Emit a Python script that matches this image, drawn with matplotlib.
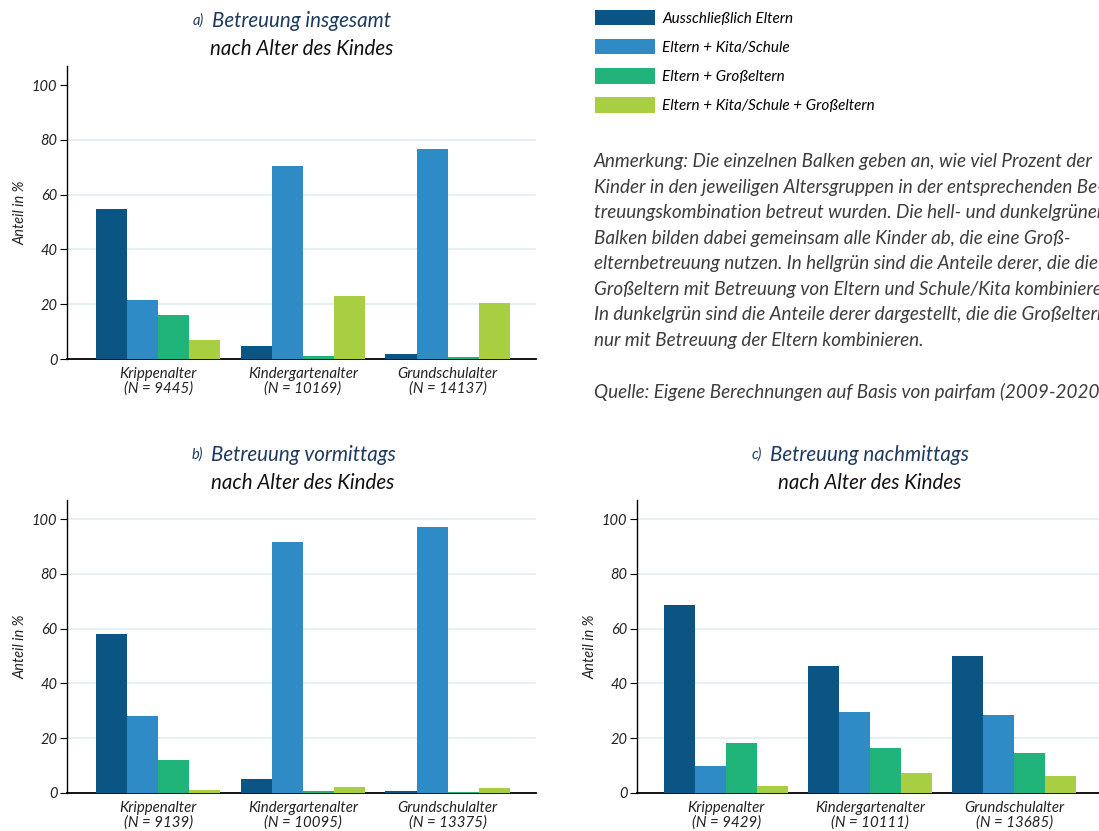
import numpy as np
import matplotlib
matplotlib.use("Agg")
import matplotlib.pyplot as plt

plt.rcParams['font.family'] = ['Lato', 'DejaVu Sans']
plt.rcParams['font.style'] = 'italic'

# Daten (Anteil in %)
series_names = ["Ausschließlich Eltern", "Eltern + Kita/Schule",
                "Eltern + Großeltern", "Eltern + Kita/Schule + Großeltern"]
colors = ["#0b5584", "#2f8bc5", "#20b37a", "#a8cf41"]
categories = ["Krippenalter", "Kindergartenalter", "Grundschulalter"]

n_a = [9445, 10169, 14137]
n_b = [9139, 10095, 13375]
n_c = [9429, 10111, 13685]

# Betreuung insgesamt
a_eltern = [54.7, 4.7, 1.8]
a_kita = [21.5, 70.4, 76.6]
a_gross = [16.1, 1.1, 0.7]
a_kita_gross = [6.9, 23.0, 20.4]

# Betreuung vormittags
b_eltern = [58.2, 5.2, 0.6]
b_kita = [28.3, 91.5, 97.3]
b_gross = [12.2, 0.9, 0.4]
b_kita_gross = [1.2, 2.3, 1.9]

# Betreuung nachmittags
c_eltern = [68.5, 46.5, 50.2]
c_kita = [10.0, 29.4, 28.6]
c_gross = [18.4, 16.6, 14.7]
c_kita_gross = [2.7, 7.4, 6.3]

W, H = 1099, 831
fig = plt.figure(figsize=(W / 100, H / 100), dpi=100)
fig.patch.set_facecolor("white")


def fx(px):
    return px / W


def fy(py):
    return 1 - py / H


navy = "#1e3a60"
grid_col = "#e2eff2"


def panel(rect, data, ns, xlim, grid_ticks):
    ax = fig.add_axes(rect)
    x = np.arange(len(categories))
    w = 0.215
    bars = []
    for i, vals in enumerate(data):
        b = ax.bar(x + (i - 1.5) * w, vals, width=w, color=colors[i],
                   label=series_names[i], zorder=3)
        bars.append(b)
    ax.set_ylim(0, 107)
    ax.set_xlim(*xlim)
    ax.set_yticks([0, 20, 40, 60, 80, 100])
    for t in grid_ticks:
        ax.axhline(t, color=grid_col, lw=1.3, zorder=1)
    ax.set_xticks(x)
    ax.set_xticklabels([f"{c}\n(N = {n})" for c, n in zip(categories, ns)],
                       fontsize=10.8, linespacing=1.0, color="#222222")
    ax.tick_params(axis="x", length=0, pad=6)
    ax.tick_params(axis="y", length=5, width=0.8, labelsize=10.5, labelcolor="#222222", pad=2)
    for s in ["top", "right"]:
        ax.spines[s].set_visible(False)
    ax.spines["left"].set_linewidth(1.0)
    ax.spines["bottom"].set_linewidth(1.3)
    ax.set_ylabel("Anteil in %", fontsize=10.5, color="#222222", labelpad=3)
    return ax, bars


ax_a, bars_a = panel([fx(67), fy(359), fx(536) - fx(67), fy(66) - fy(359)],
                     [a_eltern, a_kita, a_gross, a_kita_gross], n_a,
                     (-0.63, 2.61), [20, 40, 60, 80])
ax_b, _ = panel([fx(67), fy(793), fx(536) - fx(67), fy(500) - fy(793)],
                [b_eltern, b_kita, b_gross, b_kita_gross], n_b,
                (-0.63, 2.61), [20, 40, 60, 80, 100])
ax_c, _ = panel([fx(637), fy(793), 1 - fx(637), fy(500) - fy(793)],
                [c_eltern, c_kita, c_gross, c_kita_gross], n_c,
                (-0.62, 2.59), [20, 40, 60, 80, 100])

# Titel
def titel(letter, main, x_start, y1, x_center2, y2):
    fig.text(fx(x_start - 8), fy(y1), letter + ")", fontsize=10.5, color=navy,
             ha="right", va="center")
    fig.text(fx(x_start), fy(y1), main, fontsize=14.8, color=navy,
             ha="left", va="center")
    fig.text(fx(x_center2), fy(y2), "nach Alter des Kindes", fontsize=14.8,
             color="#111111", ha="center", va="center")


titel("a", "Betreuung insgesamt", 212, 21, 302, 49)
titel("b", "Betreuung vormittags", 211, 455, 303, 483)
titel("c", "Betreuung nachmittags", 770, 455, 870, 483)

# Legende
fig.legend(handles=[b for b in bars_a], labels=series_names,
           loc="upper left", bbox_to_anchor=(fx(595), fy(10)),
           frameon=False, fontsize=11, handlelength=3.9, handleheight=1.18,
           labelspacing=0.86, handletextpad=0.5, borderpad=0, borderaxespad=0)

anmerkung = ("Anmerkung: Die einzelnen Balken geben an, wie viel Prozent der\n"
             "Kinder in den jeweiligen Altersgruppen in der entsprechenden Be-\n"
             "treuungskombination betreut wurden. Die hell- und dunkelgrünen\n"
             "Balken bilden dabei gemeinsam alle Kinder ab, die eine Groß-\n"
             "elternbetreuung nutzen. In hellgrün sind die Anteile derer, die die\n"
             "Großeltern mit Betreuung von Eltern und Schule/Kita kombinieren.\n"
             "In dunkelgrün sind die Anteile derer dargestellt, die die Großeltern\n"
             "nur mit Betreuung der Eltern kombinieren.")
fig.text(fx(594), fy(153), anmerkung, fontsize=13.6, color="#3d3d3d",
         ha="left", va="top", linespacing=1.61)
fig.text(fx(594), fy(392), "Quelle: Eigene Berechnungen auf Basis von pairfam (2009-2020).",
         fontsize=13.6, color="#3d3d3d", ha="left", va="center")

fig.savefig("out.png", dpi=100)
